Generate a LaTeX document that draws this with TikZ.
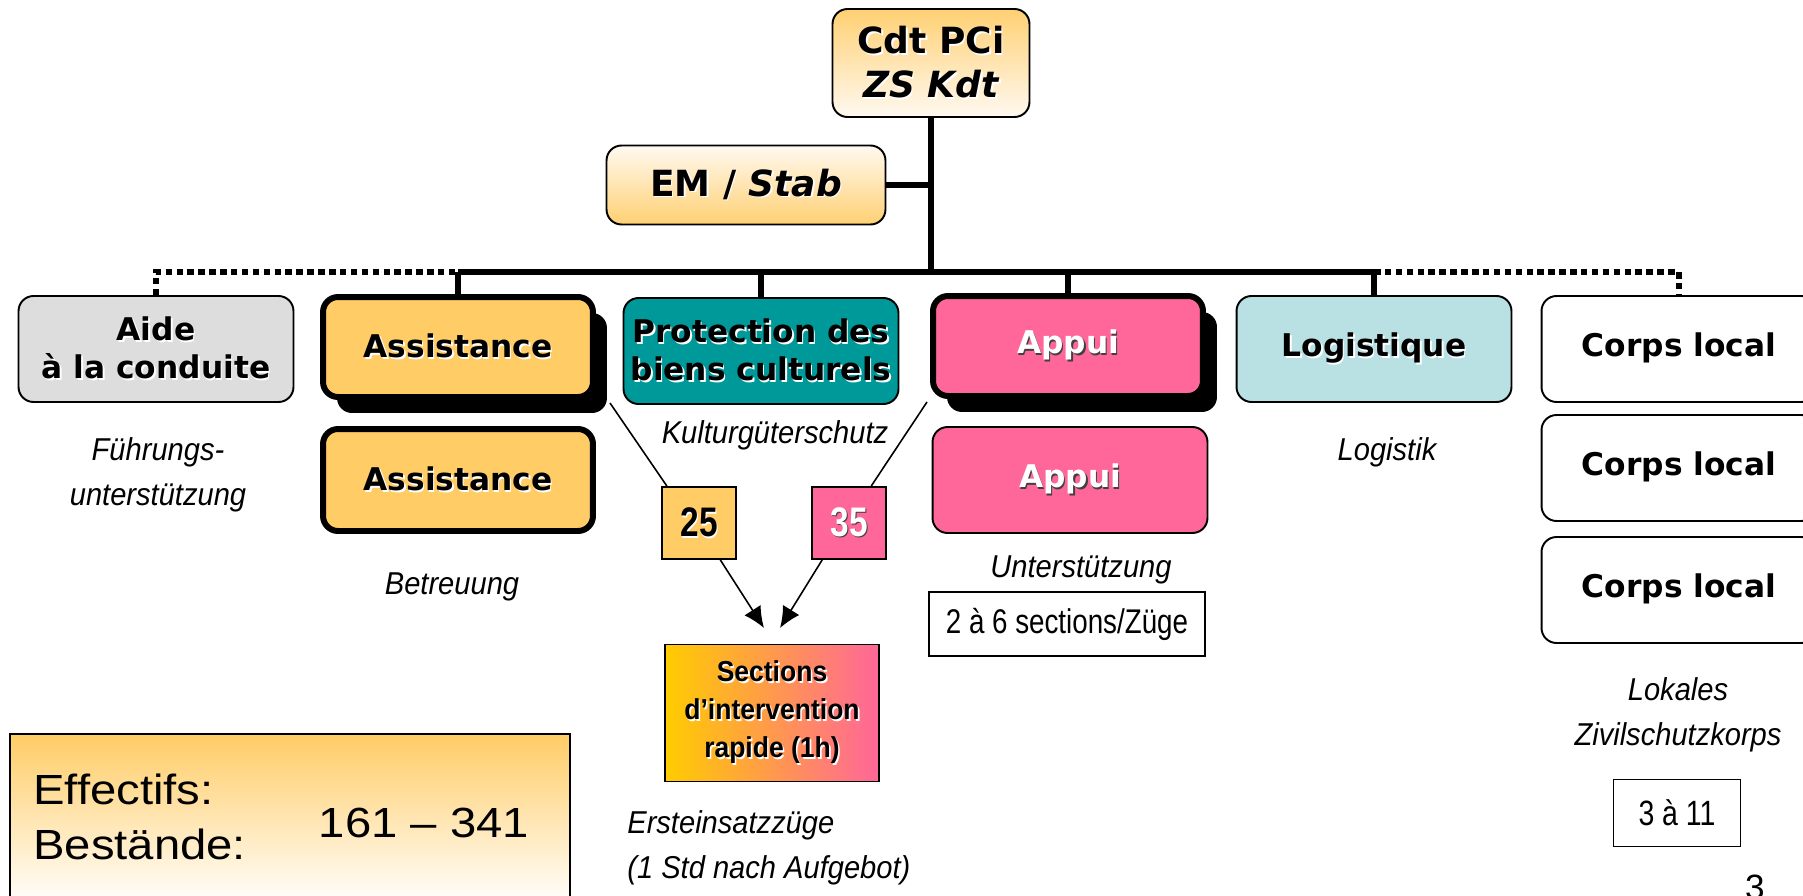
\documentclass[tikz,border=0pt]{standalone}
\usepackage{fontspec}
\setmainfont{Liberation Sans}
\newfontfamily\verdana{DejaVu Sans}
\newfontfamily\condfont[FakeStretch=0.81]{Liberation Sans}
\newfontfamily\semicond[FakeStretch=0.92]{Liberation Sans}
\newfontfamily\widefont[FakeStretch=1.12]{Liberation Sans}
\usetikzlibrary{positioning}
\usetikzlibrary{arrows.meta}
\usetikzlibrary{shadows}

\definecolor{orng}{RGB}{255,204,102}
\definecolor{pnk}{RGB}{255,102,153}
\definecolor{petrol}{RGB}{0,153,153}
\definecolor{lblue}{RGB}{185,225,228}
\definecolor{lgray}{RGB}{221,221,221}
\definecolor{ylw}{RGB}{255,204,0}
\definecolor{paleorng}{RGB}{255,208,115}
\definecolor{cream}{RGB}{255,249,240}

% text with a small offset shadow
\newcommand{\emb}[2]{\rlap{\kern0.9pt\raisebox{-0.9pt}{\color{#1}#2}}#2}
\newcommand{\wsh}[1]{\emb{white}{#1}}
\newcommand{\dsh}[1]{\emb{black!75}{#1}}

\tikzset{
	box/.style={draw, rounded corners=0.3cm, line width=1.1pt, align=center, inner sep=0pt,
		minimum width=5.5cm, minimum height=2.12cm,
		font=\verdana\bfseries\fontsize{17.8}{21.5}\selectfont},
	bigbox/.style={box, line width=3.4pt, minimum width=5.4cm, minimum height=2cm},
	chief/.style={box, font=\verdana\bfseries\fontsize{20.5}{25}\selectfont},
	italabel/.style={align=center, inner sep=0pt, font=\semicond\itshape\fontsize{18}{25.5}\selectfont},
	countbox/.style={draw, line width=1.1pt, inner sep=0pt, font=\condfont\fontsize{19.5}{22}\selectfont},
	quotabox/.style={draw, line width=1.1pt, inner sep=0pt, minimum width=1.48cm, minimum height=1.44cm,
		font=\condfont\bfseries\fontsize{23.5}{26}\selectfont},
	blackshadow/.style={drop shadow={shadow xshift=0.28cm, shadow yshift=-0.32cm, fill=black, opacity=1}},
	bus/.style={line width=3.4pt},
	busdot/.style={line width=3.4pt, dash pattern=on 3.7pt off 2.5pt},
	link/.style={line width=0.9pt},
	feed/.style={line width=0.9pt, -{Latex[length=12pt,width=11pt]}},
}

\begin{document}
\begin{tikzpicture}[x=0.02cm, y=-0.02cm]
	\useasboundingbox (0,0) rectangle (1803,896);

	% command and staff
	\node[chief, minimum width=3.94cm, minimum height=2.16cm, top color=paleorng, bottom color=cream] (cdt) at (931,63)
		{\wsh{Cdt PCi}\\\wsh{\itshape ZS Kdt}};
	\node[chief, minimum width=5.58cm, minimum height=1.58cm, top color=cream, bottom color=paleorng] (em) at (746,185)
		{\wsh{EM / \itshape Stab}};

	% services
	\node[box, fill=lgray] (aide) at (156,349) {\wsh{Aide}\\\wsh{à la conduite}};
	\node[bigbox, fill=orng, blackshadow] (ass1) at (458,347) {\wsh{Assistance}};
	\node[bigbox, fill=orng, minimum height=2.04cm] (ass2) at (458,480) {\wsh{Assistance}};
	\node[box, fill=petrol] (prot) at (761,351) {\wsh{Protection des}\\\wsh{biens culturels}};
	\node[bigbox, fill=pnk, text=white, blackshadow] (app1) at (1068,346) {\dsh{Appui}};
	\node[box, fill=pnk, text=white] (app2) at (1070,480) {\dsh{Appui}};
	\node[box, fill=lblue] (logi) at (1374,349) {\wsh{Logistique}};
	\node[box, fill=white] (cl1) at (1679,349) {\wsh{Corps local}};
	\node[box, fill=white] (cl2) at (1679,468) {\wsh{Corps local}};
	\node[box, fill=white] (cl3) at (1679,590) {\wsh{Corps local}};

	% german names
	\node[italabel] (fuehr) at (158,475) {Führungs-\\unterstützung};
	\node[italabel] (kgs) at (775,435) {Kulturgüterschutz};
	\node[italabel] (betr) at (452,587) {Betreuung};
	\node[italabel] (logk) at (1387,452) {Logistik};
	\node[italabel] (unt) at (1081,570) {Unterstützung};
	\node[italabel] (lokal) at (1678,715) {Lokales\\Zivilschutzkorps};
	\node[italabel, align=left, anchor=west] (erst) at (627,848) {Ersteinsatzzüge\\(1 Std nach Aufgebot)};

	% rapid intervention
	\node[quotabox, fill=orng] (n25) at (699,523) {\wsh{25}};
	\node[quotabox, fill=pnk, text=white] (n35) at (849,523) {\dsh{35}};
	\node[draw, line width=1.1pt, inner sep=0pt, minimum width=4.28cm, minimum height=2.74cm,
		left color=ylw, right color=pnk, align=center,
		font=\semicond\bfseries\fontsize{16.4}{21.5}\selectfont] (sect) at (772,713)
		{\wsh{Sections}\\\wsh{d’intervention}\\\wsh{rapide (1h)}};
	\node[countbox, minimum width=5.52cm, minimum height=1.28cm] (zuege) at (1067,624) {2 à 6 sections/Züge};
	\node[countbox, minimum width=2.54cm, minimum height=1.34cm, font=\condfont\fontsize{20}{22}\selectfont] (drei) at (1677,813) {3 à 11};

	% tree
	\coordinate (bus) at (931,272);
	\draw[bus] (cdt.south) -- (cdt.south |- bus);
	\draw[bus] (em.east) -- (em.east -| cdt.south);
	\draw[bus] (ass1.north |- bus) -- (logi.north |- bus);
	\foreach \n in {ass1, prot, app1, logi}
		\draw[bus] (\n.north) -- (\n.north |- bus);
	\draw[busdot] (aide.north) -- (aide.north |- bus) -- (ass1.north |- bus);
	\draw[busdot] (logi.north |- bus) -- (cl1.north |- bus) -- (cl1.north);

	% feeds into the rapid sections
	\coordinate (assfoot) at (610,403);
	\coordinate (appfoot) at (927,402);
	\coordinate (tipL) at (764,628);
	\coordinate (tipR) at (780,628);
	\draw[link] (assfoot) -- (n25.131);
	\draw[link] (appfoot) -- (n35.59);
	\draw[feed] (n25.-60) -- (tipL);
	\draw[feed] (n35.-126) -- (tipR);

	% strength
	\draw[line width=1.1pt, top color=orng, bottom color=white] (10,734) rectangle (570,905);
	\node[anchor=base west, inner sep=0pt, font=\widefont\fontsize{24}{28}\selectfont] (eff) at (33,804) {Effectifs:};
	\node[anchor=base west, inner sep=0pt, font=\widefont\fontsize{24}{28}\selectfont] (best) at (33,859) {Bestände:};
	\node[inner sep=0pt, font=\widefont\fontsize{24}{28}\selectfont] (range) at (424,823) {161 – 341};

	\node[anchor=base, inner sep=0pt, font=\fontsize{20}{22}\selectfont] (pg) at (1755,899) {3};
\end{tikzpicture}
\end{document}
